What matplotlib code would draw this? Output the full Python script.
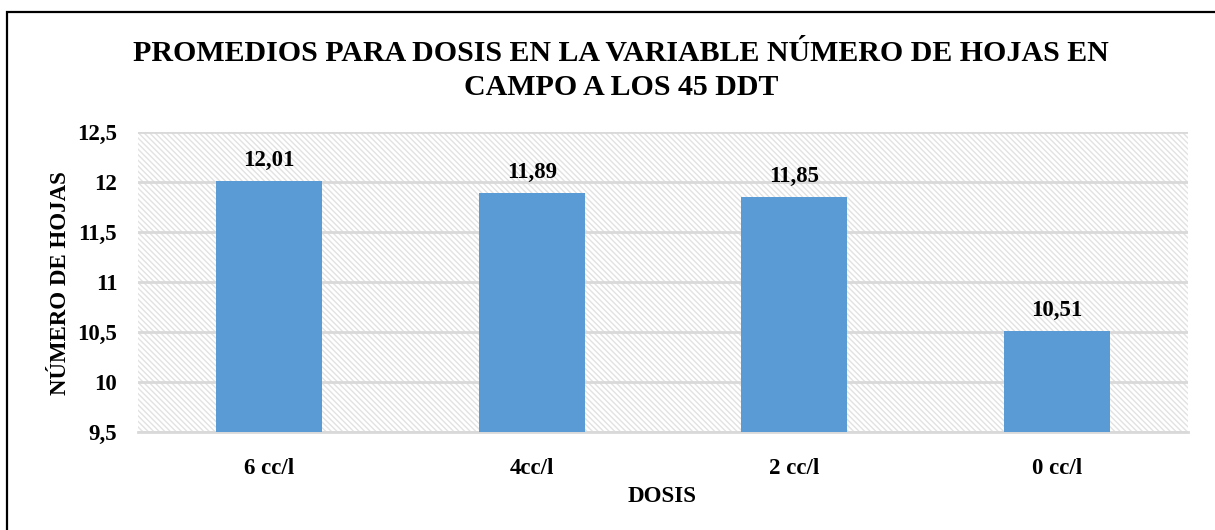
import matplotlib
matplotlib.use("Agg")
import matplotlib.pyplot as plt
from matplotlib.patches import Rectangle

categories = ["6 cc/l", "4cc/l", "2 cc/l", "0 cc/l"]
values = [12.01, 11.89, 11.85, 10.51]
value_labels = ["12,01", "11,89", "11,85", "10,51"]
yticks = [9.5, 10, 10.5, 11, 11.5, 12, 12.5]
ytick_labels = ["9,5", "10", "10,5", "11", "11,5", "12", "12,5"]
title = "PROMEDIOS PARA DOSIS EN LA VARIABLE NÚMERO DE HOJAS EN\nCAMPO A LOS 45 DDT"

plt.rcParams['font.family'] = ['Liberation Serif', 'DejaVu Serif']
plt.rcParams['font.weight'] = 'bold'
plt.rcParams['hatch.linewidth'] = 1.0
plt.rcParams['hatch.color'] = '#e2e2e2'

W, H = 1215, 530
fig = plt.figure(figsize=(W / 100, H / 100), dpi=100)
fig.patch.set_facecolor('white')

# outer frame
fig.add_artist(Rectangle((7 / W, -0.1), 1.2, (H - 12) / H + 0.1, transform=fig.transFigure,
                         fill=False, edgecolor='black', linewidth=1.6))

ax = fig.add_axes([138 / W, 1 - 432 / H, (1188 - 138) / W, (432 - 132) / H])
ax.set_facecolor('white')
ax.add_patch(Rectangle((0, 0), 1, 1, transform=ax.transAxes, facecolor='white',
                       edgecolor='#e2e2e2', hatch='\\\\\\\\\\\\', linewidth=0, zorder=0))

x = range(len(categories))
ax.bar(x, [v - 9.5 for v in values], bottom=9.5, width=0.405, color='#5b9bd5', zorder=3)
fs = 16.5
for xi, v, lab in zip(x, values, value_labels):
    ax.text(xi, v + 0.1, lab, ha='center', va='bottom', fontsize=fs, fontweight='bold', zorder=4)

ax.set_xlim(-0.5, len(categories) - 0.5)
ax.set_ylim(9.5, 12.5)
ax.set_yticks(yticks)
ax.set_yticklabels(ytick_labels, fontsize=fs, fontweight='bold')
ax.set_xticks(list(x))
ax.set_xticklabels(categories, fontsize=fs, fontweight='bold')
ax.tick_params(length=0)
ax.tick_params(axis='y', pad=15)
ax.tick_params(axis='x', pad=19)
ax.grid(axis='y', color='#d9d9d9', linewidth=2, zorder=1)
for s in ['top', 'right', 'left']:
    ax.spines[s].set_visible(False)
ax.spines['bottom'].set_color('#d9d9d9')
ax.spines['bottom'].set_linewidth(2)

fig.text(60 / W, 1 - 283 / H, "NÚMERO DE HOJAS", rotation=90, ha='center', va='center',
         fontsize=fs, fontweight='bold')
fig.text(662 / W, 1 - 497 / H, "DOSIS", ha='center', va='center', fontsize=fs, fontweight='bold')
fig.text(621 / W, 1 - 70.5 / H, title, ha='center', va='center', fontsize=21.5,
         fontweight='bold', linespacing=1.3)

fig.savefig("out.png", dpi=100, facecolor='white')
